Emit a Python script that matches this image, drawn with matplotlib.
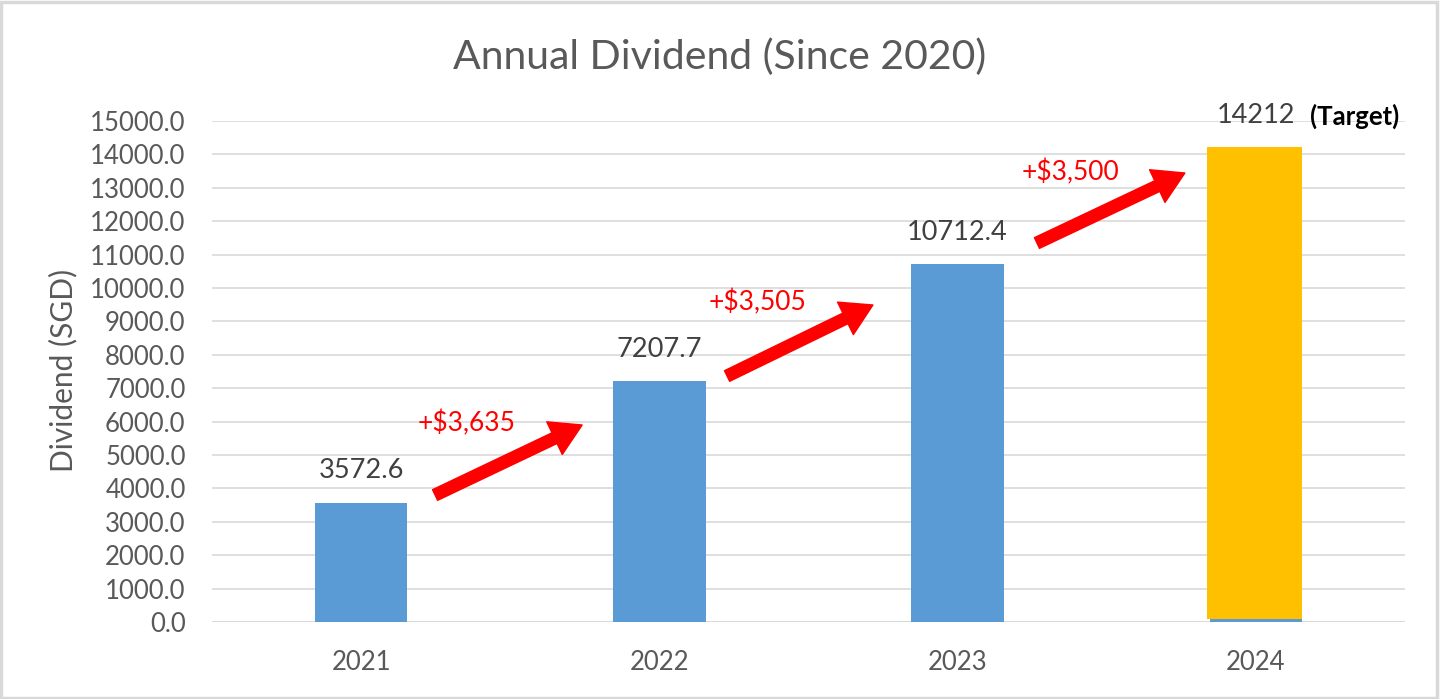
import matplotlib
matplotlib.use("Agg")
import matplotlib.pyplot as plt
from matplotlib.patches import FancyArrowPatch, Rectangle

plt.rcParams['font.family'] = ['Lato', 'DejaVu Sans']

years = ['2021', '2022', '2023', '2024']
actual = [3572.6, 7207.7, 10712.4, 100.0]
target_2024 = 14212
labels = ['3572.6', '7207.7', '10712.4', '14212']
increments = ['+$3,635', '+$3,505', '+$3,500']
yticks = list(range(0, 15001, 1000))

fig = plt.figure(figsize=(14.4, 6.99), dpi=100)
ax = fig.add_axes([212/1440, 1-622/699, (1405-212)/1440, (622-121)/699])

x = list(range(len(years)))
ax.bar(x[:3], actual[:3], width=0.31, color='#5B9BD5', zorder=3)
ax.bar(x[3], actual[3], width=0.31, color='#5B9BD5', zorder=3)
ax.bar(x[3]-0.005, target_2024 - actual[3], bottom=actual[3], width=0.32, color='#FFC000', zorder=3)

ax.set_xlim(-0.5, 3.5)
ax.set_ylim(0, 15000)
ax.set_yticks(yticks)
ax.set_yticklabels([f'{v:.1f}' for v in yticks])
ax.set_xticks(x)
ax.set_xticklabels(years)
ax.tick_params(axis='both', length=0, labelsize=18.5, colors='#595959')
ax.tick_params(axis='y', pad=19)
ax.tick_params(axis='x', pad=20)
ax.grid(axis='y', color='#D9D9D9', linewidth=1.2, zorder=0)
for s in ax.spines.values():
    s.set_visible(False)
ax.axhline(0, color='#D9D9D9', linewidth=1.2, zorder=1)

fig.text(63/1440, 1-370/699, 'Dividend (SGD)', rotation=90, ha='center', va='center',
         fontsize=21.5, color='#595959')

# value labels
tops = [actual[0], actual[1], actual[2], target_2024]
for i, (t, lab) in enumerate(zip(tops, labels)):
    ax.annotate(lab, (i, t), xytext=(0, 23), textcoords='offset points',
                ha='center', va='center', fontsize=19.5, color='#404040', zorder=4)
ax.annotate('(Target)', (3.33, target_2024), xytext=(0, 22), textcoords='offset points',
            ha='center', va='center', fontsize=18.5, fontweight='bold', color='black')

# arrows and increments
arrows = [((0.248, 3802), (0.741, 5898)),
          ((1.227, 7365), (1.716, 9491)),
          ((2.266, 11347), (2.762, 13443))]
text_pos = [(0.352, 5958), (1.33, 9581), (2.377, 13473)]
for (p0, p1), tp, inc in zip(arrows, text_pos, increments):
    arr = FancyArrowPatch(p0, p1, arrowstyle='simple,head_width=2.6,head_length=2.2,tail_width=0.85',
                          mutation_scale=10, color='#FF0000', zorder=5, shrinkA=0, shrinkB=0)
    ax.add_patch(arr)
    ax.text(tp[0], tp[1], inc, ha='center', va='center', fontsize=19, color='#FF0000', zorder=5)

fig.text(0.5, 1-57/699, 'Annual Dividend (Since 2020)', ha='center', va='center',
         fontsize=29.5, color='#595959')

fig.patches.append(Rectangle((0.001, 0.002), 0.997, 0.995, transform=fig.transFigure,
                             fill=False, edgecolor='#D9D9D9', linewidth=2.5))

fig.savefig('out.png', dpi=100)
